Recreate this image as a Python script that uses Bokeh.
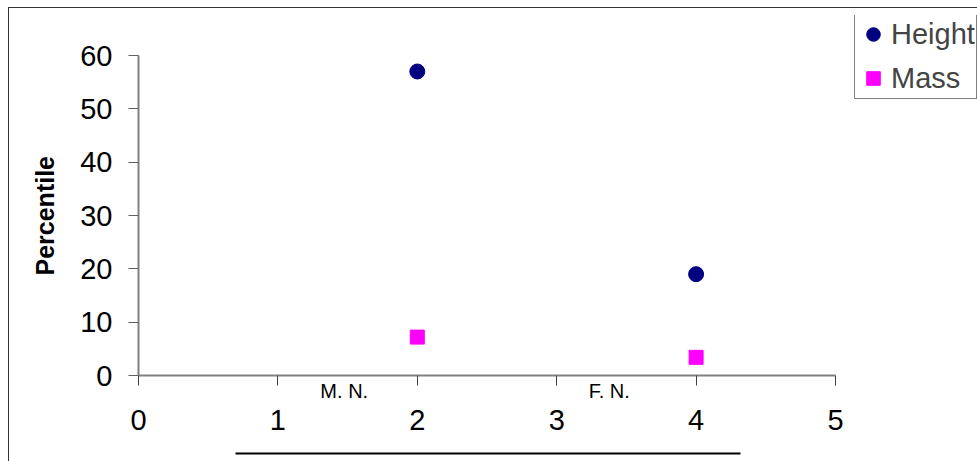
from bokeh.plotting import figure
from bokeh.models import Range1d, FixedTicker, Legend, LegendItem, LinearAxis, Title
from bokeh.embed import file_html
from bokeh.resources import INLINE

# ---- data ----
x_vals = [2, 4]
height_pct = [57, 19]
mass_pct = [7.2, 3.4]
x_ticks = [0, 1, 2, 3, 4, 5]
y_ticks = [0, 10, 20, 30, 40, 50, 60]
group_labels = ["M. N.", "F. N."]
group_pos = [1.476, 3.377]
series_names = ["Height", "Mass"]
y_title = "Percentile"

FONT = "Liberation Sans"

# frame extends past the axes (axes limited with bounds) so the legend sits inside it
p = figure(width=968, height=453, output_backend="svg", toolbar_location=None,
           x_range=Range1d(0, 6.0187), y_range=Range1d(0, 67.5),
           min_border_left=129, min_border_right=0, min_border_top=7, min_border_bottom=86)
p.styles = {"margin-left": "9px", "margin-top": "8px",
            "box-shadow": "0 -1px 0 0 #333333, -1px 0 0 0 #333333, -1px -1px 0 0 #333333"}
p.outline_line_color = None
p.xgrid.visible = False
p.ygrid.visible = False
p.background_fill_color = "white"
p.border_fill_color = "white"

# ---- y axis ----
ya = p.yaxis[0]
ya.ticker = FixedTicker(ticks=y_ticks)
ya.bounds = (0, 60)
ya.axis_line_color = "#808080"
ya.axis_line_width = 2
ya.major_tick_line_color = "#606060"
ya.major_tick_in = 0
ya.major_tick_out = 10
ya.minor_tick_line_color = None
ya.major_label_text_font = FONT
ya.major_label_text_font_size = "29px"
ya.major_label_text_color = "black"
ya.major_label_standoff = 16

# y title as a side title so it can be placed along the 0-60 axis span
p.add_layout(Title(text=y_title, align="left", offset=100, standoff=38,
                   text_font=FONT, text_font_size="25px", text_font_style="bold",
                   text_color="black"), "left")

# ---- x axis A: line, tick marks, group labels ----
xa = p.xaxis[0]
xa.ticker = FixedTicker(ticks=group_pos, minor_ticks=x_ticks)
xa.bounds = (0, 5)
xa.major_label_overrides = {group_pos[i]: group_labels[i] for i in range(len(group_labels))}
xa.axis_line_color = "#808080"
xa.axis_line_width = 2
xa.major_tick_line_color = None
xa.major_tick_in = 0
xa.major_tick_out = 0
xa.minor_tick_line_color = "#404040"
xa.minor_tick_in = 0
xa.minor_tick_out = 10
xa.major_label_text_font = FONT
xa.major_label_text_font_size = "20px"
xa.major_label_text_color = "black"
xa.major_label_standoff = -6

# ---- x axis B: numeric tick labels ----
xb = LinearAxis(ticker=FixedTicker(ticks=x_ticks))
xb.axis_line_color = None
xb.major_tick_line_color = None
xb.minor_tick_line_color = None
xb.major_tick_in = 0
xb.major_tick_out = 0
xb.minor_tick_in = 0
xb.minor_tick_out = 0
xb.major_label_text_font = FONT
xb.major_label_text_font_size = "29px"
xb.major_label_text_color = "black"
xb.major_label_standoff = 5
xb.axis_label = " "
xb.axis_label_text_font_size = "4px"
xb.axis_label_standoff = 13
p.add_layout(xb, "below")

# ---- x axis C: black underline ----
xc = LinearAxis(ticker=FixedTicker(ticks=[]), bounds=(0.698, 4.318))
xc.axis_line_color = "black"
xc.axis_line_width = 2
xc.major_tick_line_color = None
xc.minor_tick_line_color = None
xc.major_label_text_font_size = "0px"
p.add_layout(xc, "below")

r_h = p.scatter(x_vals, height_pct, marker="circle", size=15, fill_color="#000080", line_color="#000080")
r_m = p.scatter(x_vals, mass_pct, marker="square", size=14, fill_color="#FF00FF", line_color="#FF00FF")

legend = Legend(items=[LegendItem(label=series_names[0], renderers=[r_h]),
                       LegendItem(label=series_names[1], renderers=[r_m])],
                location=(716, 276))
legend.label_text_font = FONT
legend.label_text_font_size = "29px"
legend.label_text_baseline = "middle"
legend.padding = 1
legend.margin = 0
legend.glyph_width = 34
legend.glyph_height = 34
legend.label_height = 38
legend.label_standoff = 1
legend.spacing = 6
legend.border_line_color = "black"
legend.border_line_width = 1.3
legend.background_fill_color = "white"
legend.background_fill_alpha = 1
p.add_layout(legend, "center")

open("out.html", "w").write(file_html(p, INLINE))
